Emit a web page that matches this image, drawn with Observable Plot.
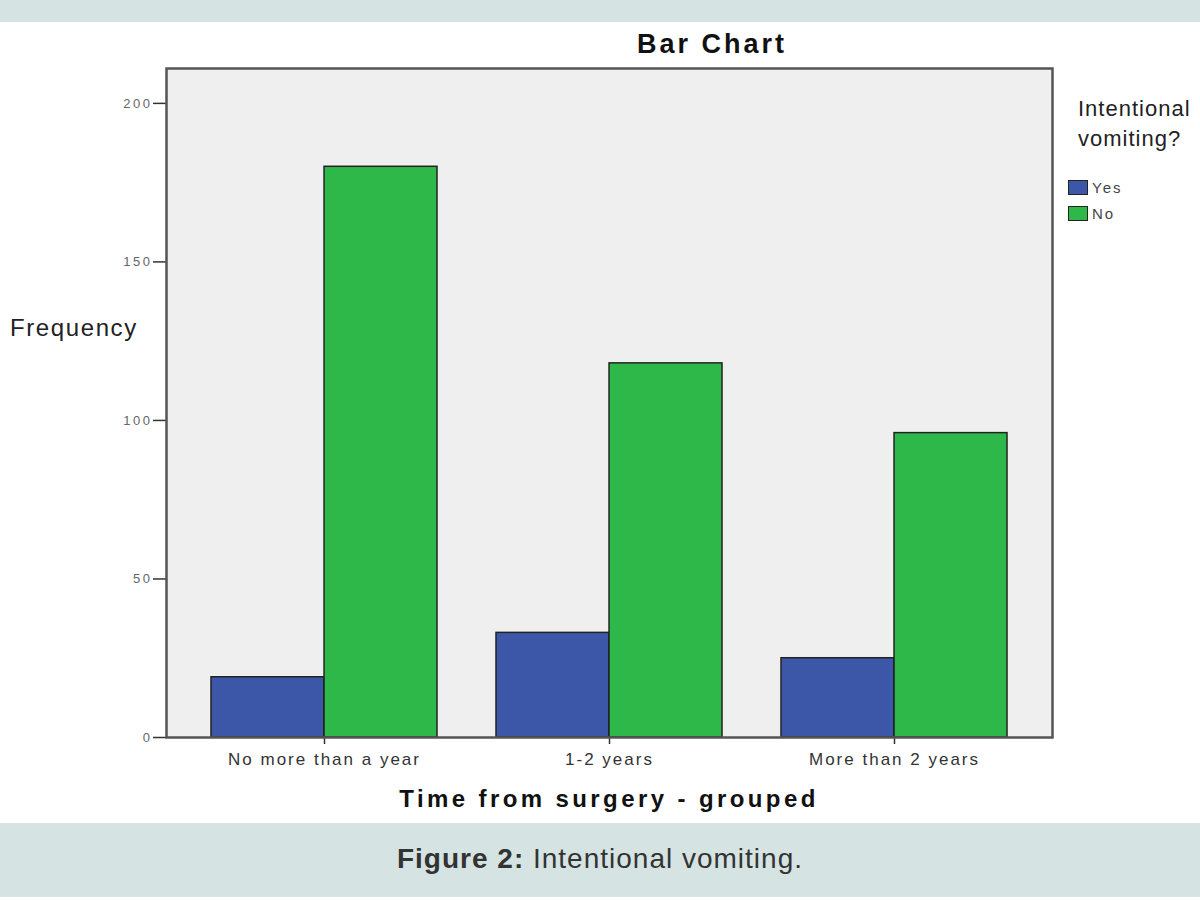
<!DOCTYPE html>
<html>
<head>
<meta charset="utf-8">
<script src="https://cdn.jsdelivr.net/npm/d3@7"></script>
<script src="https://cdn.jsdelivr.net/npm/@observablehq/plot@0.6"></script>
<style>
  html, body { margin: 0; padding: 0; background: #fff; }
  body { width: 1200px; height: 900px; position: relative; overflow: hidden; font-family: "Liberation Sans", Arial, sans-serif; }
  .band-top { position: absolute; left: 0; top: 0; width: 1200px; height: 22px; background: #d5e3e3; }
  .band-bottom { position: absolute; left: 0; top: 823px; width: 1200px; height: 74px; background: #d5e3e3; }
  .caption { position: absolute; left: 0; width: 1200px; top: 843px; text-align: center; font-size: 28px; letter-spacing: 1px; color: #333; }
  .chart { position: absolute; left: 0; top: 22px; width: 1200px; height: 801px; }
  .title { position: absolute; left: 562px; width: 300px; top: 29px; text-align: center; font-size: 27px; letter-spacing: 3px; font-weight: bold; color: #111; }
  .ylabel { position: absolute; left: 10px; top: 314px; font-size: 24px; letter-spacing: 1.6px; color: #222; }
  .xlabel { position: absolute; left: 209px; width: 800px; top: 785px; text-align: center; font-size: 24px; letter-spacing: 3.4px; font-weight: bold; color: #111; }
  .legend-title { position: absolute; left: 1078px; top: 94px; font-size: 22px; letter-spacing: 1px; line-height: 30px; color: #222; }
  .legend-item { position: absolute; left: 1068px; font-size: 15px; letter-spacing: 2px; color: #444; display: flex; align-items: center; }
  .legend-item span.sw { display: inline-block; width: 18px; height: 13px; border: 1px solid #222; margin-right: 4px; }
  #chart svg g[aria-label="x-axis tick label"] text { letter-spacing: 2px; }
  #chart svg g[aria-label="y-axis tick label"] text { letter-spacing: 2.5px; }
</style>
</head>
<body>
<div class="band-top"></div>
<div class="chart" id="chart"></div>
<div class="title">Bar Chart</div>
<div class="ylabel">Frequency</div>
<div class="xlabel">Time from surgery - grouped</div>
<div id="legend"></div>
<div class="band-bottom"></div>
<div class="caption"><b>Figure 2:</b> Intentional vomiting.</div>
<script>
const groups = ["No more than a year", "1-2 years", "More than 2 years"];
const series = ["Yes", "No"];
const yesValues = [19, 33, 25];
const noValues = [180, 118, 96];
const yTicks = [0, 50, 100, 150, 200];
const seriesColors = ["#3d57a8", "#2fb84a"];
const legendTitle = "Intentional vomiting?";

const data = [];
groups.forEach((g, i) => {
  data.push({group: g, series: "Yes", value: yesValues[i]});
  data.push({group: g, series: "No", value: noValues[i]});
});

const W = 1200, H = 801;
const margins = {marginTop: 46, marginBottom: 86, marginLeft: 166, marginRight: 148};
const xOpts = {domain: groups, paddingInner: 0.208, paddingOuter: 0.156, label: null};
const xScale = Plot.scale({x: {...xOpts, type: "band", range: [margins.marginLeft, W - margins.marginRight]}});
const half = xScale.bandwidth / 2;

const plot = Plot.plot({
  width: W,
  height: H,
  ...margins,
  style: {background: "transparent", fontFamily: "'Liberation Sans', Arial, sans-serif"},
  x: xOpts,
  y: {domain: [0, 211], label: null},
  color: {domain: series, range: seriesColors},
  marks: [
    Plot.frame({fill: "#efefef", stroke: "none"}),
    Plot.barY(data.filter(d => d.series === "Yes"), {x: "group", y: "value", fill: "series", stroke: "#222", strokeWidth: 1.5, insetRight: half}),
    Plot.barY(data.filter(d => d.series === "No"), {x: "group", y: "value", fill: "series", stroke: "#222", strokeWidth: 1.5, insetLeft: half}),
    Plot.axisY({ticks: yTicks, tickFormat: d3.format("d"), tickSize: 13, tickPadding: 1, fontSize: 13, color: "#666", stroke: "#333", strokeWidth: 1.5, label: null}),
    Plot.axisX({tickSize: 7, tickPadding: 8, fontSize: 17, color: "#333", stroke: "#333", strokeWidth: 1.5, label: null}),
    Plot.frame({stroke: "#555", strokeWidth: 2.5})
  ]
});
document.getElementById("chart").appendChild(plot);

const legend = document.getElementById("legend");
const lt = document.createElement("div");
lt.className = "legend-title";
lt.innerHTML = legendTitle.replace(" ", "<br>");
legend.appendChild(lt);
series.forEach((s, i) => {
  const it = document.createElement("div");
  it.className = "legend-item";
  it.style.top = (179 + i * 26) + "px";
  it.innerHTML = `<span class="sw" style="background:${seriesColors[i]}"></span>${s}`;
  legend.appendChild(it);
});
</script>
</body>
</html>
